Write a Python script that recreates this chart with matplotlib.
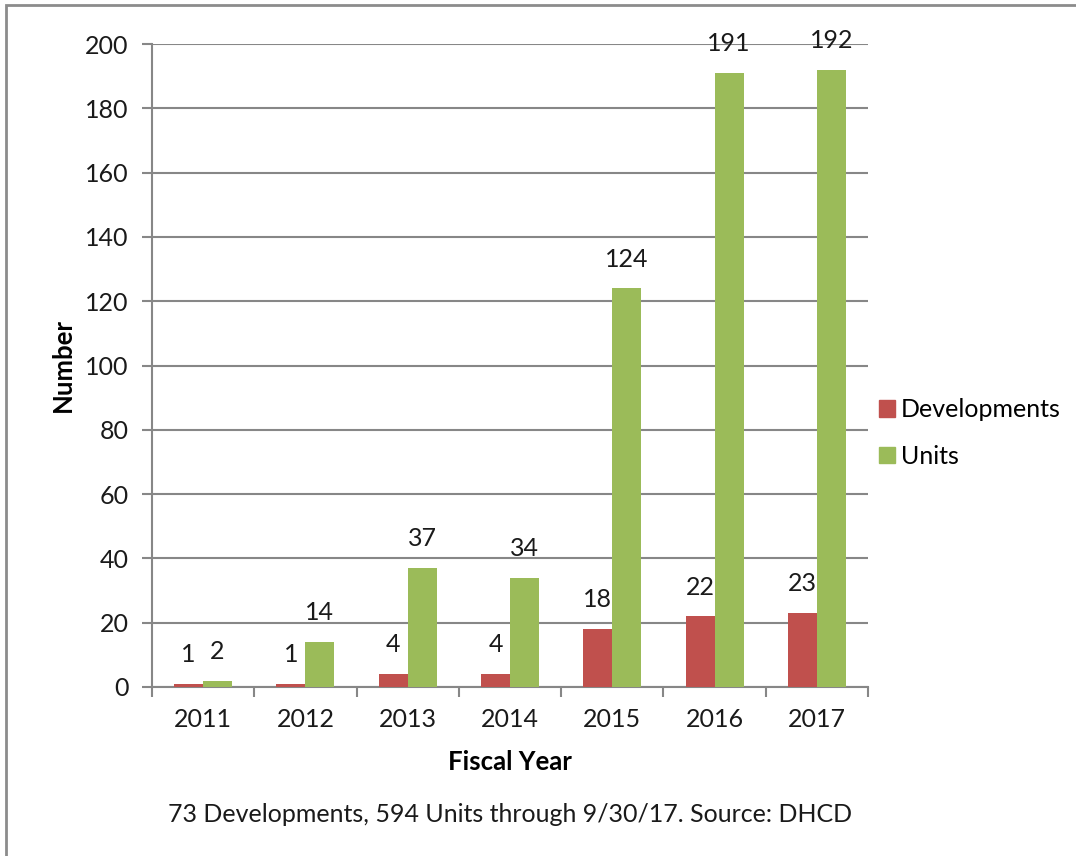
import matplotlib
matplotlib.use("Agg")
import matplotlib.pyplot as plt
from matplotlib.patches import Rectangle, Patch
import numpy as np

plt.rcParams['font.family'] = ['Lato', 'DejaVu Sans']

years = ["2011", "2012", "2013", "2014", "2015", "2016", "2017"]
developments = [1, 1, 4, 4, 18, 22, 23]
units = [2, 14, 37, 34, 124, 191, 192]
y_ticks = [0, 20, 40, 60, 80, 100, 120, 140, 160, 180, 200]

RED = "#C0504D"
GREEN = "#9BBB59"
GRID = "#878787"
TXT = "#1a1a1a"
FS = 18

fig = plt.figure(figsize=(10.76, 8.56), dpi=100)
ax = fig.add_axes([152 / 1076, 169 / 856, 716 / 1076, 643 / 856])

x = np.arange(len(years))
w = 0.283
ax.bar(x - w / 2, developments, w, color=RED, label="Developments", zorder=3)
ax.bar(x + w / 2, units, w, color=GREEN, label="Units", zorder=3)

for xs, vals in ((x - w / 2, developments), (x + w / 2, units)):
    for xi, v in zip(xs, vals):
        ax.annotate(str(v), (xi, v), xytext=(0, 21), textcoords="offset points",
                    ha="center", va="center", fontsize=FS, color=TXT,
                    annotation_clip=False)

ax.set_xlim(-0.5, len(years) - 0.5)
ax.set_ylim(0, 200)
ax.set_yticks(y_ticks)
ax.set_yticklabels([str(t) for t in y_ticks], fontsize=FS, color=TXT)
ax.yaxis.grid(True, color=GRID, linewidth=1.5, zorder=0)
ax.set_axisbelow(True)

ax.set_xticks(x)
ax.set_xticklabels(years, fontsize=FS, color=TXT)
ax.set_xticks(np.arange(len(years) + 1) - 0.5, minor=True)
ax.tick_params(axis="x", which="major", length=0, pad=15)
ax.tick_params(axis="x", which="minor", length=7, width=1.5, color=GRID, direction="out")
ax.tick_params(axis="y", length=7, width=1.5, color=GRID, direction="out", pad=10)

for s in ["top", "right"]:
    ax.spines[s].set_visible(False)
for s in ["left", "bottom"]:
    ax.spines[s].set_color(GRID)
    ax.spines[s].set_linewidth(1.5)

ax.set_ylabel("Number", fontsize=18.5, fontweight="bold", labelpad=7)
ax.set_xlabel("Fiscal Year", fontsize=18.5, fontweight="bold", labelpad=13.5)

handles = [Patch(color=RED), Patch(color=GREEN)]
fig.legend(handles, ["Developments", "Units"], loc="center left",
           bbox_to_anchor=(856 / 1076, 1 - 433 / 856), frameon=False,
           fontsize=FS, handlelength=0.65, handleheight=0.65,
           handletextpad=0.25, labelspacing=0.95)

fig.text(510 / 1076, 1 - 815 / 856,
         "73 Developments, 594 Units through 9/30/17. Source: DHCD",
         ha="center", va="center", fontsize=FS, color=TXT)

fig.patches.append(Rectangle((5.5 / 1076, -0.1), 1.2, 1.1 - 4.5 / 856,
                             transform=fig.transFigure, fill=False,
                             edgecolor="#8c8c8c", linewidth=2))

fig.savefig("out.png", dpi=100)
